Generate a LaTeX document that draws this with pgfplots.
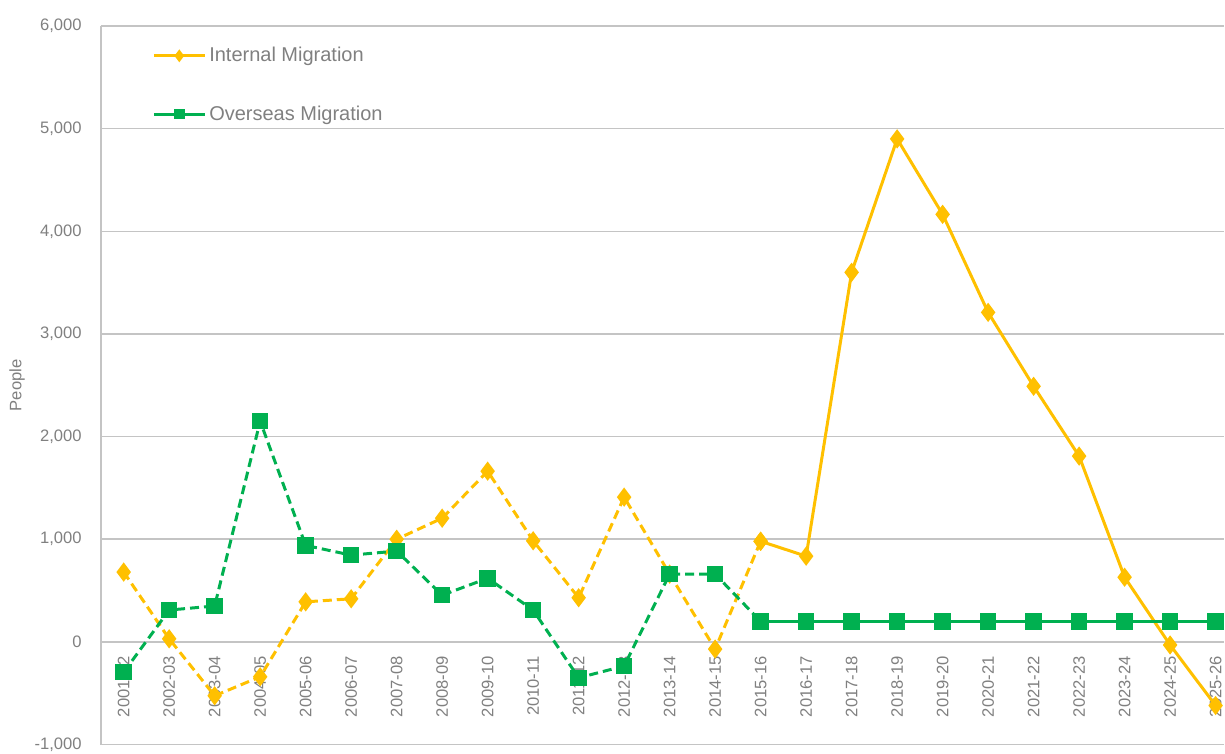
\documentclass[border=0pt]{standalone}
\usepackage{fontspec}
\setmainfont{Liberation Sans}
\usepackage{pgfplots}
\pgfplotsset{compat=1.18}
\definecolor{orng}{HTML}{FFC000}
\definecolor{grn}{HTML}{00B050}
\definecolor{txt}{HTML}{808080}
\definecolor{grd}{HTML}{C4C4C4}
\pgfplotsset{
  legend image code/.code={\draw[mark repeat=2,mark phase=2,#1,every mark/.append style={scale=0.55}] plot coordinates {(0pt,0pt) (12.75pt,0pt) (25.5pt,0pt)};},
}
\begin{document}
\begin{tikzpicture}
\begin{axis}[
  at={(0,0)}, anchor=south west,
  scale only axis, width=562pt, height=359.5pt,
  xmin=-0.5, xmax=24.19, ymin=-1000, ymax=6000,
  axis x line*=middle, axis y line*=left,
  hide obscured y ticks=false, hide obscured x ticks=false,
  axis line style={grd, line width=0.75pt},
  ymajorgrids, grid style={grd, line width=0.75pt},
  major tick length=0pt,
  ytick={-1000,0,1000,2000,3000,4000,5000,6000},
  xtick={0,...,24},
  xticklabels={2001-02,2002-03,2003-04,2004-05,2005-06,2006-07,2007-08,2008-09,2009-10,2010-11,2011-12,2012-13,2013-14,2014-15,2015-16,2016-17,2017-18,2018-19,2019-20,2020-21,2021-22,2022-23,2023-24,2024-25,2025-26},
  /pgf/number format/assume math mode=true,
  /pgf/number format/1000 sep={,},
  yticklabel style={font=\fontsize{8.3}{10}\selectfont, text=txt, inner sep=0pt, xshift=-9.5pt},
  xticklabel style={font=\fontsize{8.3}{10}\selectfont, text=txt, inner sep=0pt, yshift=-7pt, rotate=90, anchor=east},
  ylabel={People},
  ylabel style={font=\fontsize{8.3}{10}\selectfont, text=txt, at={(axis description cs:-0.0747,0.5)}, anchor=center},
  legend cell align=left,
  legend style={draw=none, fill=none, at={(0.0454,0.974)}, anchor=north west,
    font=\fontsize{10}{12}\selectfont, text=txt, inner sep=0pt, row sep=18.5pt,
    nodes={inner xsep=1.5pt, inner ysep=1pt}},
]
% Internal migration: dashed part
\addplot[orng, line width=1.5pt, dash pattern=on 4.5pt off 2.5pt, mark=diamond*, mark size=3.6pt, mark options={solid, fill=orng}, forget plot]
  coordinates {(0,680) (1,30) (2,-525) (3,-340) (4,390) (5,420) (6,1000) (7,1205) (8,1663) (9,985) (10,430) (11,1410) (12,660) (13,-70) (14,980)};
% Internal migration: solid part
\addplot[orng, line width=1.5pt, mark=diamond*, mark size=3.6pt, mark options={solid, fill=orng}]
  coordinates {(14,980) (15,835) (16,3600) (17,4900) (18,4165) (19,3210) (20,2490) (21,1810) (22,630) (23,-30) (24,-620)};
\addlegendentry{Internal Migration}
% Overseas migration: dashed part
\addplot[grn, line width=1.5pt, dash pattern=on 4.5pt off 2.5pt, mark=square*, mark size=3.4pt, mark options={solid, fill=grn}, forget plot]
  coordinates {(0,-295) (1,310) (2,350) (3,2150) (4,940) (5,845) (6,885) (7,455) (8,620) (9,310) (10,-350) (11,-235) (12,660) (13,660) (14,200)};
% Overseas migration: solid part
\addplot[grn, line width=1.5pt, mark=square*, mark size=3.4pt, mark options={solid, fill=grn}]
  coordinates {(14,200) (15,200) (16,200) (17,200) (18,200) (19,200) (20,200) (21,200) (22,200) (23,200) (24,200)};
\addlegendentry{Overseas Migration}
\end{axis}
\path (-50.5pt,-4.5pt) rectangle (562pt,372.5pt);
\end{tikzpicture}
\end{document}
